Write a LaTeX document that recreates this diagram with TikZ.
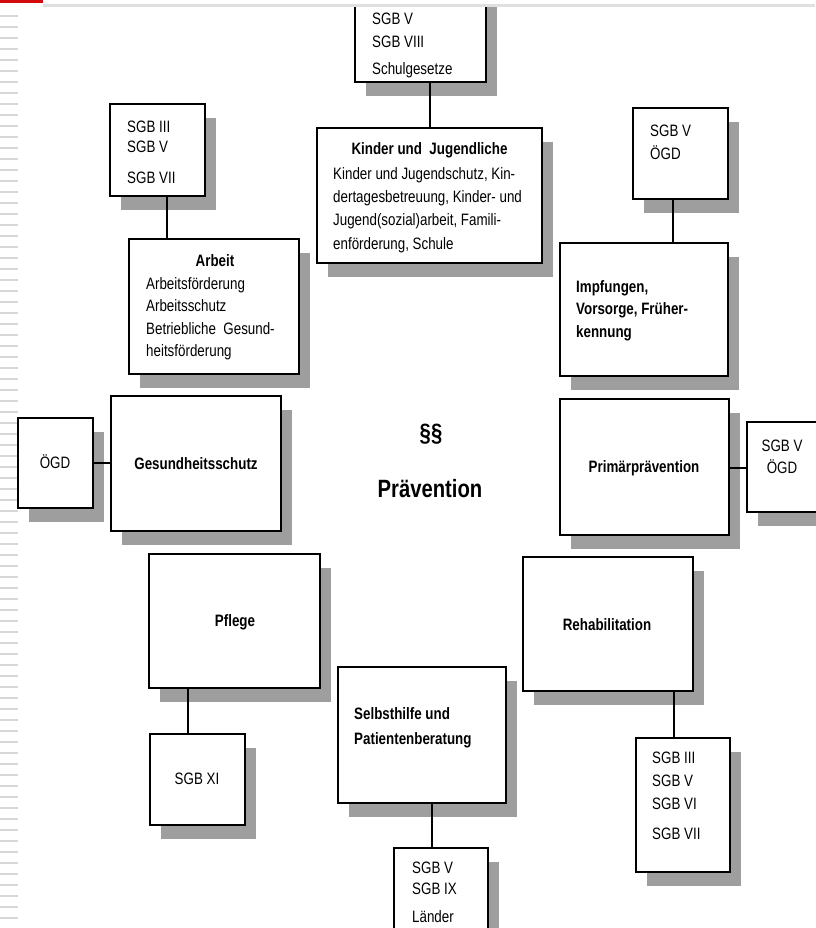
\documentclass[tikz,border=0pt]{standalone}
\usepackage{fontspec}
\setmainfont{Liberation Sans}[FakeStretch=0.81]
\usetikzlibrary{shadows}
\definecolor{hdrred}{RGB}{210,12,12}
\definecolor{shadowgray}{RGB}{158,158,158}
\definecolor{stripegray}{RGB}{215,215,215}
\begin{document}
\begin{tikzpicture}[x=1pt,y=-1pt,
  pbox/.style={draw, line width=2pt, fill=white, inner sep=0pt,
    drop shadow={shadow xshift=11pt, shadow yshift=-14pt, fill=shadowgray, opacity=1}},
  conn/.style={line width=2pt},
  txt/.style={inner sep=0pt, anchor=north west, align=left, font=\fontsize{16.5}{23}\selectfont},
  btxt/.style={txt, font=\bfseries\fontsize{16.5}{23}\selectfont},
  ttl/.style={inner sep=0pt, font=\bfseries\fontsize{16.5}{23}\selectfont, text height=11.8pt, text depth=0pt},
  ntl/.style={inner sep=0pt, font=\fontsize{16.5}{23}\selectfont, text height=11.8pt, text depth=0pt},
  big/.style={inner sep=0pt, font=\bfseries\fontsize{25}{30}\selectfont},
]
\useasboundingbox (0,0) rectangle (815,928);
\fill[white] (0,0) rectangle (815,928);
% left stripes
\foreach \i in {0,...,82} \draw[stripegray, line width=1.6pt] (0,16+11*\i) -- (18,16+11*\i);

% boxes
\node[pbox, minimum width=131pt, minimum height=122pt] (topb) at (420.5,21) {};
\node[pbox, minimum width=225pt, minimum height=135pt] (kinder) at (429.5,195.5) {};
\node[pbox, minimum width=95pt, minimum height=92pt] (sgbL) at (157.5,150) {};
\node[pbox, minimum width=170pt, minimum height=135pt] (arbeit) at (214,306.5) {};
\node[pbox, minimum width=170pt, minimum height=135pt] (gesund) at (196,463.5) {};
\node[pbox, minimum width=75pt, minimum height=90pt] (oegdL) at (55.5,463) {};
\node[pbox, minimum width=95pt, minimum height=91pt] (sgbTR) at (680.5,153.5) {};
\node[pbox, minimum width=168pt, minimum height=133pt] (impf) at (644,309.5) {};
\node[pbox, minimum width=169pt, minimum height=136pt] (primaer) at (644.5,467) {};
\node[pbox, minimum width=83pt, minimum height=90pt] (oegdR) at (788.5,467) {};
\node[pbox, minimum width=170pt, minimum height=134pt] (rehab) at (608,624) {};
\node[pbox, minimum width=94pt, minimum height=134pt] (sgbBR) at (683,805) {};
\node[pbox, minimum width=171pt, minimum height=134pt] (pflege) at (234.5,621) {};
\node[pbox, minimum width=95pt, minimum height=91pt] (sgbXI) at (197.5,779.5) {};
\node[pbox, minimum width=168pt, minimum height=136pt] (selbst) at (422,735) {};
\node[pbox, minimum width=94pt, minimum height=112pt] (sgbB) at (441,904) {};

% connectors
\draw[conn] (kinder.north) -- (kinder.north |- topb.south);
\draw[conn] ([xshift=9.5pt]sgbL.south) -- ([xshift=9.5pt]sgbL.south |- arbeit.north);
\draw[conn] ([xshift=-7.5pt]sgbTR.south) -- ([xshift=-7.5pt]sgbTR.south |- impf.north);
\draw[conn] (oegdL.east) -- (oegdL.east -| gesund.west);
\draw[conn] ([yshift=-1pt]primaer.east) -- ([yshift=-1pt]primaer.east -| oegdR.west);
\draw[conn] ([xshift=-9pt]sgbBR.north) -- ([xshift=-9pt]sgbBR.north |- rehab.south);
\draw[conn] ([xshift=-9.5pt]sgbXI.north) -- ([xshift=-9.5pt]sgbXI.north |- pflege.south);
\draw[conn] ([xshift=-9pt]sgbB.north) -- ([xshift=-9pt]sgbB.north |- selbst.south);

% texts
\node[txt] (t-topb) at (372,13) {SGB V\\SGB VIII\\[4pt]Schulgesetze};
\node[ttl] (t-kinder) at (429.5,148.5) {Kinder und\ \ Jugendliche};
\node[txt, font=\fontsize{16.5}{23.3}\selectfont] (b-kinder) at (333,167) {Kinder und Jugendschutz, Kin-\\dertagesbetreuung, Kinder- und\\Jugend(sozial)arbeit, Famili-\\enförderung, Schule};
\node[txt, font=\fontsize{16.5}{20}\selectfont] (t-sgbL) at (127,121) {SGB III\\SGB V\\[11pt]SGB VII};
\node[ttl] (t-arbeit) at (215,260.5) {Arbeit};
\node[txt, font=\fontsize{16.5}{22.6}\selectfont] (b-arbeit) at (146,277) {Arbeitsförderung\\Arbeitsschutz\\Betriebliche\ \ Gesund-\\heitsförderung};
\node[ttl] (t-gesund) at (196,464) {Gesundheitsschutz};
\node[ntl] (t-oegdL) at (55,463) {ÖGD};
\node[txt] (t-sgbTR) at (650,125) {SGB V\\ÖGD};
\node[btxt, font=\bfseries\fontsize{16.5}{22.5}\selectfont] (t-impf) at (576,280) {Impfungen,\\Vorsorge, Früher-\\kennung};
\node[ttl] (t-primaer) at (644,467) {Primärprävention};
\node[txt, anchor=north, align=center, font=\fontsize{16.5}{22}\selectfont] (t-oegdR) at (782,440) {SGB V\\ÖGD};
\node[ttl] (t-rehab) at (607,625) {Rehabilitation};
\node[txt] (t-sgbBR) at (652,752) {SGB III\\SGB V\\SGB VI\\[7pt]SGB VII};
\node[ttl] (t-pflege) at (235,621) {Pflege};
\node[ntl] (t-sgbXI) at (197,779) {SGB XI};
\node[btxt, font=\bfseries\fontsize{16.5}{25}\selectfont] (t-selbst) at (354,707) {Selbsthilfe und\\Patientenberatung};
\node[txt, font=\fontsize{16.5}{20.5}\selectfont] (t-sgbB) at (412,862) {SGB V\\SGB IX\\[8pt]Länder};
\node[big] (t-par) at (431,434) {§§};
\node[big, anchor=base] (t-praev) at (430,497) {Prävention};

% header
\fill[white] (0,0) rectangle (815,7);
\fill[black!12] (43,4) rectangle (815,7);
\fill[hdrred] (0,0) rectangle (43,3.5);
\end{tikzpicture}
\end{document}
